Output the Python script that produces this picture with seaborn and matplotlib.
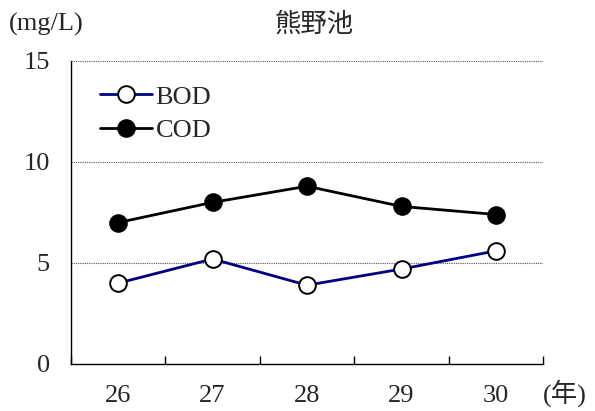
import numpy as np
import pandas as pd
import matplotlib
matplotlib.use("Agg")
import matplotlib.pyplot as plt
import seaborn as sns
from matplotlib.ticker import FixedLocator

# --- data ---
years = ["26", "27", "28", "29", "30"]
bod = [4.0, 5.2, 3.9, 4.7, 5.6]
cod = [7.0, 8.0, 8.8, 7.8, 7.4]
y_ticks = [0, 5, 10, 15]

sns.set_style("white")
plt.rcParams["font.family"] = ["Liberation Serif", "Noto Sans CJK JP", "DejaVu Sans"]

df = pd.DataFrame({"idx": np.arange(len(years)), "BOD": bod, "COD": cod})

fig = plt.figure(figsize=(5.95, 4.11), dpi=100)
ax = fig.add_axes([0.119, 0.1144, 0.794, 0.7372])

sns.lineplot(ax=ax, data=df, x="idx", y="BOD", color="#000080", lw=2.0,
             marker="o", markersize=12, markerfacecolor="white",
             markeredgecolor="black", markeredgewidth=1.4, label="BOD")
sns.lineplot(ax=ax, data=df, x="idx", y="COD", color="black", lw=2.0,
             marker="o", markersize=12, markerfacecolor="black",
             markeredgecolor="black", markeredgewidth=1.4, label="COD")

ax.set_xlim(-0.5, len(years) - 0.5)
ax.set_ylim(0, 15)
ax.set_yticks(y_ticks)
ax.set_yticklabels([str(t) for t in y_ticks], fontsize=19)
ax.tick_params(axis="y", length=0, pad=15)

# category boundaries as tick marks, labels at centers
ax.xaxis.set_major_locator(FixedLocator(np.arange(-0.5, len(years), 1.0)))
ax.xaxis.set_minor_locator(FixedLocator(np.arange(len(years))))
ax.set_xticklabels([])
ax.set_xticklabels(years, minor=True, fontsize=19)
ax.tick_params(axis="x", which="major", bottom=True, direction="in", length=6,
               width=1, color="black")
ax.tick_params(axis="x", which="minor", bottom=True, length=0, pad=15)
ax.set_xlabel("")
ax.set_ylabel("")

for y in [5, 10, 15]:
    ax.axhline(y, color="#555555", lw=0.8, ls=(0, (1, 1)), zorder=0)

for s in ["top", "right"]:
    ax.spines[s].set_visible(False)
for s in ["left", "bottom"]:
    ax.spines[s].set_color("black")
    ax.spines[s].set_linewidth(1.0)

ax.legend(loc="upper left", bbox_to_anchor=(0.04, 0.955), frameon=False,
          fontsize=19, handlelength=1.95, handletextpad=0.15, labelspacing=0.38,
          borderaxespad=0)

fig.text(0.528, 0.94, "熊野池", ha="center", va="center", fontsize=19)
fig.text(0.015, 0.94, "(mg/L)", ha="left", va="center", fontsize=19)
fig.text(0.912, 0.043, "(年)", ha="left", va="center", fontsize=19)

fig.savefig("out.png", dpi=100)
